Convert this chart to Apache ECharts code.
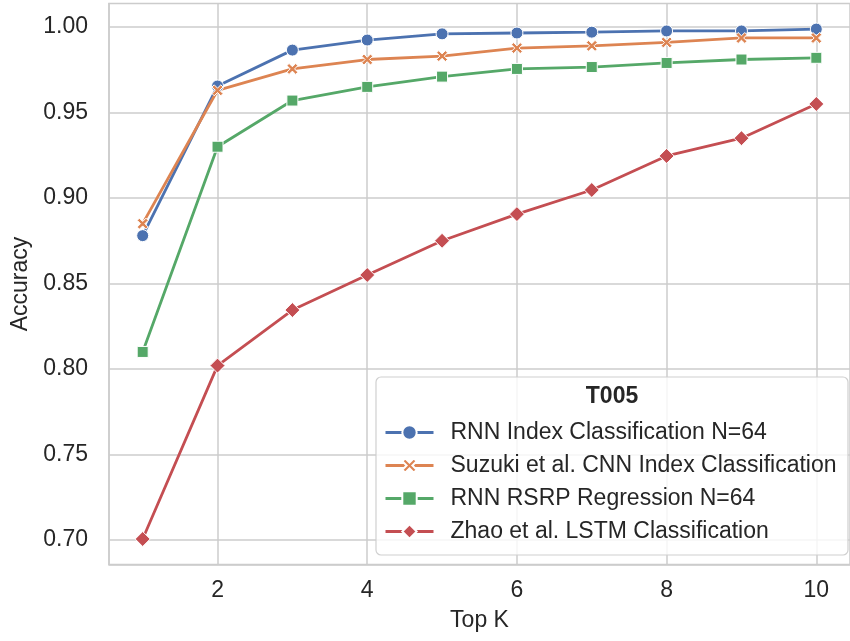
<!DOCTYPE html>
<html>
<head>
<meta charset="utf-8">
<script src="https://cdn.jsdelivr.net/npm/echarts@6/dist/echarts.min.js"></script>
<style>html,body{margin:0;padding:0;background:#fff}#c{width:850px;height:641px}</style>
</head>
<body>
<div id="c"></div>
<script>
const topK = [1, 2, 3, 4, 5, 6, 7, 8, 9, 10];
const rnnIndex = [0.878, 0.9655, 0.9865, 0.9924, 0.996, 0.9965, 0.997, 0.9977, 0.9977, 0.9988];
const suzukiCnn = [0.885, 0.963, 0.9755, 0.981, 0.983, 0.9877, 0.989, 0.991, 0.9936, 0.9936];
const rnnRsrp = [0.810, 0.930, 0.957, 0.965, 0.971, 0.9755, 0.9766, 0.979, 0.981, 0.982];
const zhaoLstm = [0.7006, 0.802, 0.8345, 0.855, 0.875, 0.8906, 0.9047, 0.9246, 0.935, 0.955];
const xTicks = [2, 4, 6, 8, 10];
const yTicks = [0.70, 0.75, 0.80, 0.85, 0.90, 0.95, 1.00];
const seriesNames = ['RNN Index Classification N=64', 'Suzuki et al. CNN Index Classification', 'RNN RSRP Regression N=64', 'Zhao et al. LSTM Classification'];
const legendTitle = 'T005';

const colors = ['#4C72B0', '#DD8452', '#55A868', '#C44E52'];
const xPath = 'path://M0,2 L2,0 L5,3 L8,0 L10,2 L7,5 L10,8 L8,10 L5,7 L2,10 L0,8 L3,5 Z';
const symbols = ['circle', xPath, 'rect', 'diamond'];
const sizes = [12, 11, 11, 15];
const datasets = [rnnIndex, suzukiCnn, rnnRsrp, zhaoLstm];
const txt = '#262626';
const font = 'Liberation Sans, Arial, sans-serif';

const chart = echarts.init(document.getElementById('c'), null, {renderer: 'canvas'});
const series = datasets.map((d, i) => ({
  name: seriesNames[i],
  type: 'line',
  data: topK.map((k, j) => [k, d[j]]),
  symbol: symbols[i],
  symbolSize: sizes[i],
  color: colors[i],
  lineStyle: {width: 2.8, color: colors[i]},
  itemStyle: {color: colors[i], borderColor: '#fff', borderWidth: 1},
  emphasis: {disabled: true},
  animation: false,
  z: 3
}));

chart.setOption({
  animation: false,
  grid: {left: 109, right: -7, top: 3.6, bottom: 76.5, show: true, borderColor: '#cccccc', borderWidth: 1.5, containLabel: false},
  xAxis: {
    type: 'value', min: 0.55, max: 10.45,
    name: 'Top K', nameLocation: 'middle', nameGap: 45,
    nameTextStyle: {color: txt, fontSize: 23, fontFamily: font},
    axisLine: {show: true, lineStyle: {color: '#cccccc', width: 1.5}},
    axisTick: {show: false, customValues: xTicks},
    axisLabel: {customValues: xTicks, color: txt, fontSize: 23, fontFamily: font, margin: 15},
    splitLine: {show: true, lineStyle: {color: '#cccccc', width: 1.5}}
  },
  yAxis: {
    type: 'value', min: 0.6857, max: 1.0137,
    name: 'Accuracy', nameLocation: 'middle', nameGap: 76.5, nameRotate: 90,
    nameTextStyle: {color: txt, fontSize: 23, fontFamily: font},
    axisLine: {show: true, lineStyle: {color: '#cccccc', width: 1.5}},
    axisTick: {show: false, customValues: yTicks},
    axisLabel: {customValues: yTicks, color: txt, fontSize: 23, fontFamily: font, margin: 21, formatter: v => v.toFixed(2)},
    splitLine: {show: true, lineStyle: {color: '#cccccc', width: 1.5}}
  },
  graphic: [
    {type: 'rect', shape: {x: 376, y: 377, width: 472, height: 178, r: 5}, style: {fill: 'rgba(255,255,255,0.8)', stroke: '#d0d0d0', lineWidth: 1.2}, z: 5},
    {type: 'text', x: 612, y: 397, style: {text: legendTitle, fill: txt, font: 'bold 23px ' + font, align: 'center', verticalAlign: 'middle'}, z: 6}
  ],
  legend: {
    show: true, orient: 'vertical', left: 384, top: 421, padding: 0,
    itemWidth: 48, itemHeight: 18, itemGap: 10,
    data: seriesNames,
    lineStyle: {width: 3},
    textStyle: {color: txt, fontSize: 23, lineHeight: 23, fontFamily: font, padding: [0, 0, 0, 12]},
    selectedMode: false, z: 10
  },
  series: series
});
</script>
</body>
</html>
